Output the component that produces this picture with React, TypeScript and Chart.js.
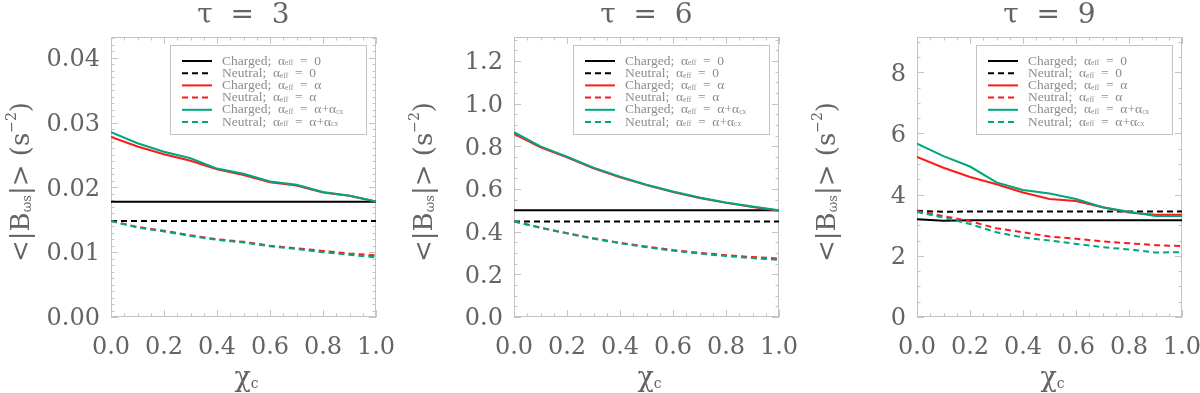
import React, { useEffect, useRef } from "react";
import { Chart, registerables } from "chart.js";
Chart.register(...registerables);

const chiValues = [0, 0.1, 0.2, 0.3, 0.4, 0.5, 0.6, 0.7, 0.8, 0.9, 1.0];
const xTickLabels = ["0.0", "0.2", "0.4", "0.6", "0.8", "1.0"];

// tau = 3
const tau3ChargedZero = [0.0178, 0.0178, 0.0178, 0.0178, 0.0178, 0.0178, 0.0178, 0.0178, 0.0178, 0.0178, 0.0178];
const tau3NeutralZero = [0.0148, 0.0148, 0.0148, 0.0148, 0.0148, 0.0148, 0.0148, 0.0148, 0.0148, 0.0148, 0.0148];
const tau3ChargedAlpha = [0.0278, 0.0263, 0.0251, 0.0241, 0.0228, 0.0219, 0.0208, 0.0203, 0.0192, 0.0187, 0.0178];
const tau3NeutralAlpha = [0.0148, 0.0139, 0.0133, 0.0126, 0.012, 0.0116, 0.011, 0.0106, 0.0102, 0.0098, 0.0095];
const tau3ChargedCx = [0.0285, 0.0268, 0.0255, 0.0245, 0.0229, 0.0221, 0.0209, 0.0204, 0.0193, 0.0187, 0.0178];
const tau3NeutralCx = [0.0148, 0.0138, 0.0132, 0.0125, 0.0119, 0.0115, 0.0109, 0.0105, 0.01, 0.0096, 0.0092];
const tau3YTickLabels = ["0.00", "0.01", "0.02", "0.03", "0.04"];

// tau = 6
const tau6ChargedZero = [0.5, 0.5, 0.5, 0.5, 0.5, 0.5, 0.5, 0.5, 0.5, 0.5, 0.5];
const tau6NeutralZero = [0.448, 0.448, 0.448, 0.448, 0.448, 0.448, 0.448, 0.448, 0.448, 0.448, 0.448];
const tau6ChargedAlpha = [0.858, 0.795, 0.748, 0.697, 0.655, 0.618, 0.586, 0.558, 0.535, 0.516, 0.498];
const tau6NeutralAlpha = [0.448, 0.419, 0.393, 0.369, 0.348, 0.33, 0.314, 0.301, 0.29, 0.281, 0.274];
const tau6ChargedCx = [0.866, 0.8, 0.752, 0.7, 0.658, 0.62, 0.588, 0.56, 0.537, 0.518, 0.5];
const tau6NeutralCx = [0.448, 0.418, 0.392, 0.367, 0.346, 0.327, 0.311, 0.297, 0.286, 0.276, 0.268];
const tau6YTickLabels = ["0.0", "0.2", "0.4", "0.6", "0.8", "1.0", "1.2"];

// tau = 9
const tau9ChargedZero = [3.2, 3.15, 3.16, 3.16, 3.16, 3.16, 3.16, 3.16, 3.16, 3.16, 3.16];
const tau9NeutralZero = [3.47, 3.44, 3.45, 3.45, 3.45, 3.45, 3.45, 3.45, 3.45, 3.45, 3.45];
const tau9ChargedAlpha = [5.23, 4.88, 4.58, 4.34, 4.07, 3.86, 3.79, 3.59, 3.42, 3.34, 3.34];
const tau9NeutralAlpha = [3.47, 3.3, 3.13, 2.9, 2.77, 2.63, 2.56, 2.47, 2.41, 2.35, 2.32];
const tau9ChargedCx = [5.67, 5.26, 4.92, 4.4, 4.15, 4.04, 3.86, 3.59, 3.44, 3.3, 3.3];
const tau9NeutralCx = [3.43, 3.25, 3.04, 2.77, 2.6, 2.5, 2.39, 2.28, 2.21, 2.11, 2.12];
const tau9YTickLabels = ["0", "2", "4", "6", "8"];

const panelTitles = ["τ  =  3", "τ  =  6", "τ  =  9"];

// legend: alternating normal / subscript segments
const legendLabels = [
  ["Charged;  α", "eff", "  =  0"],
  ["Neutral;  α", "eff", "  =  0"],
  ["Charged;  α", "eff", "  =  α"],
  ["Neutral;  α", "eff", "  =  α"],
  ["Charged;  α", "eff", "  =  α+α", "cx"],
  ["Neutral;  α", "eff", "  =  α+α", "cx"],
];

const seriesColors = ["#000000", "#000000", "#ff1a1a", "#ff1a1a", "#00a67e", "#00a67e"];
const seriesDashed = [false, true, false, true, false, true];

type PanelSpec = {
  title: string;
  series: number[][];
  yMax: number;
  yStep: number;
  yMinor: number;
  yTickLabels: string[];
  left: number;
};

const panels: PanelSpec[] = [
  {
    title: panelTitles[0],
    series: [tau3ChargedZero, tau3NeutralZero, tau3ChargedAlpha, tau3NeutralAlpha, tau3ChargedCx, tau3NeutralCx],
    yMax: 0.0432, yStep: 0.01, yMinor: 0.001, yTickLabels: tau3YTickLabels, left: 0,
  },
  {
    title: panelTitles[1],
    series: [tau6ChargedZero, tau6NeutralZero, tau6ChargedAlpha, tau6NeutralAlpha, tau6ChargedCx, tau6NeutralCx],
    yMax: 1.3125, yStep: 0.2, yMinor: 0.05, yTickLabels: tau6YTickLabels, left: 403,
  },
  {
    title: panelTitles[2],
    series: [tau9ChargedZero, tau9NeutralZero, tau9ChargedAlpha, tau9NeutralAlpha, tau9ChargedCx, tau9NeutralCx],
    yMax: 9.155, yStep: 2, yMinor: 0.5, yTickLabels: tau9YTickLabels, left: 806,
  },
];

const CW = 394;
const CH = 393;
const SERIF = "'DejaVu Serif', serif";
const LSERIF = "'Liberation Serif', serif";
const TEXT = "#646464";
const FRAME = "#c4c4c4";

function drawSegments(ctx: CanvasRenderingContext2D, segs: { t: string; font: string; dy: number }[], x: number, y: number, align: "left" | "center") {
  let total = 0;
  for (const s of segs) {
    ctx.font = s.font;
    total += ctx.measureText(s.t).width;
  }
  let cx = align === "center" ? x - total / 2 : x;
  ctx.textAlign = "left";
  for (const s of segs) {
    ctx.font = s.font;
    ctx.fillText(s.t, cx, y + s.dy);
    cx += ctx.measureText(s.t).width;
  }
}

function makeDecor(spec: PanelSpec) {
  return {
    id: "decor",
    beforeDatasetsDraw(chart: any) {
      const ctx: CanvasRenderingContext2D = chart.ctx;
      const { left, right, top, bottom } = chart.chartArea;
      const xs = chart.scales.x;
      const ys = chart.scales.y;
      ctx.save();
      ctx.strokeStyle = FRAME;
      ctx.lineWidth = 1;
      ctx.strokeRect(left + 0.5, top + 0.5, right - left - 1, bottom - top - 1);
      const xMinor = 0.05;
      const xMajor = 0.2;
      for (let k = 0; k * xMinor <= 1 + 1e-9; k++) {
        const v = k * xMinor;
        const major = Math.abs(v / xMajor - Math.round(v / xMajor)) < 1e-6;
        const len = major ? 7 : 3.5;
        const px = Math.round(xs.getPixelForValue(v)) + 0.5;
        ctx.beginPath();
        ctx.moveTo(px, bottom);
        ctx.lineTo(px, bottom - len);
        ctx.moveTo(px, top);
        ctx.lineTo(px, top + len);
        ctx.stroke();
      }
      for (let k = 0; k * spec.yMinor <= spec.yMax + 1e-12; k++) {
        const v = k * spec.yMinor;
        const major = Math.abs(v / spec.yStep - Math.round(v / spec.yStep)) < 1e-6;
        const len = major ? 7 : 3.5;
        const py = Math.round(ys.getPixelForValue(v)) + 0.5;
        ctx.beginPath();
        ctx.moveTo(left, py);
        ctx.lineTo(left + len, py);
        ctx.moveTo(right, py);
        ctx.lineTo(right - len, py);
        ctx.stroke();
      }
      ctx.restore();
    },
    afterDatasetsDraw(chart: any) {
      const ctx: CanvasRenderingContext2D = chart.ctx;
      const { left } = chart.chartArea;
      const bx = left + 59;
      const by = 45;
      const bw = 196;
      const bh = 89;
      ctx.save();
      ctx.fillStyle = "#ffffff";
      ctx.fillRect(bx, by, bw, bh);
      ctx.strokeStyle = FRAME;
      ctx.lineWidth = 1;
      ctx.strokeRect(bx + 0.5, by + 0.5, bw, bh);
      chart.data.datasets.forEach((ds: any, i: number) => {
        const ry = by + 16 + i * 12.2;
        ctx.strokeStyle = ds.borderColor;
        ctx.lineWidth = 2;
        ctx.setLineDash(ds.borderDash || []);
        ctx.beginPath();
        ctx.moveTo(bx + 12, ry);
        ctx.lineTo(bx + 42, ry);
        ctx.stroke();
        ctx.setLineDash([]);
        const parts = legendLabels[i];
        const segs = parts.map((t, j) => ({
          t,
          font: j % 2 === 0 ? `13.5px ${LSERIF}` : `7.5px ${LSERIF}`,
          dy: j % 2 === 0 ? 0 : 2.5,
        }));
        ctx.fillStyle = "#8c8c8c";
        ctx.textBaseline = "middle";
        drawSegments(ctx, segs, bx + 52, ry, "left");
      });
      ctx.restore();
    },
    afterDraw(chart: any) {
      const ctx: CanvasRenderingContext2D = chart.ctx;
      const { left, right, top, bottom } = chart.chartArea;
      const cx = (left + right) / 2;
      ctx.save();
      ctx.fillStyle = TEXT;
      ctx.textBaseline = "alphabetic";
      ctx.font = `28px ${SERIF}`;
      ctx.textAlign = "center";
      ctx.fillText(spec.title, cx, 23);
      drawSegments(ctx, [
        { t: "χ", font: `27px ${SERIF}`, dy: 0 },
        { t: "c", font: `14px ${SERIF}`, dy: 2 },
      ], cx + 3, 386, "center");
      ctx.translate(22, 182);
      ctx.rotate(-Math.PI / 2);
      ctx.textBaseline = "middle";
      drawSegments(ctx, [
        { t: "<|B", font: `26px ${SERIF}`, dy: 0 },
        { t: "ωs", font: `13px ${SERIF}`, dy: 6 },
        { t: "|> (s", font: `26px ${SERIF}`, dy: 0 },
        { t: "−2", font: `14px ${SERIF}`, dy: -10 },
        { t: ")", font: `26px ${SERIF}`, dy: 0 },
      ], 0, 0, "center");
      ctx.restore();
    },
  };
}

function Panel({ spec }: { spec: PanelSpec }) {
  const ref = useRef<HTMLCanvasElement | null>(null);
  useEffect(() => {
    const canvas = ref.current;
    if (!canvas) return;
    const chart = new Chart(canvas, {
      type: "line",
      data: {
        datasets: spec.series.map((vals, i) => ({
          label: legendLabels[i].join(""),
          data: chiValues.map((x, k) => ({ x, y: vals[k] })),
          borderColor: seriesColors[i],
          backgroundColor: seriesColors[i],
          borderWidth: 2,
          borderDash: seriesDashed[i] ? [6, 4] : [],
          pointRadius: 0,
          fill: false,
          tension: 0,
          order: 5 - i,
        })),
      },
      options: {
        responsive: false,
        animation: false,
        devicePixelRatio: 1,
        layout: { padding: { top: 37, right: 18, left: 0, bottom: 0 } },
        plugins: {
          legend: { display: false },
          tooltip: { enabled: false },
          title: { display: false },
        },
        scales: {
          x: {
            type: "linear",
            min: 0,
            max: 1,
            bounds: "data",
            grid: { display: false, drawTicks: false, tickLength: 0 },
            border: { display: false },
            ticks: {
              stepSize: 0.2,
              includeBounds: false,
              autoSkip: false,
              maxRotation: 0,
              minRotation: 0,
              padding: 16,
              color: TEXT,
              font: { family: "DejaVu Serif", size: 24 },
              callback: (_v: any, i: number) => xTickLabels[i],
            },
            afterFit: (s: any) => {
              s.height = 76;
              s.paddingLeft = 0;
              s.paddingRight = 0;
            },
          },
          y: {
            type: "linear",
            min: 0,
            max: spec.yMax,
            bounds: "data",
            grid: { display: false, drawTicks: false, tickLength: 0 },
            border: { display: false },
            ticks: {
              stepSize: spec.yStep,
              includeBounds: false,
              autoSkip: false,
              padding: 11,
              labelOffset: 2,
              color: TEXT,
              font: { family: "DejaVu Serif", size: 24 },
              callback: (_v: any, i: number) => spec.yTickLabels[i],
            },
            afterFit: (s: any) => {
              s.width = 111;
              s.paddingTop = 0;
              s.paddingBottom = 0;
            },
          },
        },
      } as any,
      plugins: [makeDecor(spec) as any],
    });
    return () => chart.destroy();
  }, [spec]);
  return (
    <canvas
      ref={ref}
      width={CW}
      height={CH}
      style={{ position: "absolute", left: spec.left, top: 0, width: CW, height: CH }}
    />
  );
}

export default function App() {
  return (
    <div style={{ position: "absolute", left: 0, top: 0, width: 1200, height: 393, background: "#ffffff", overflow: "hidden" }}>
      {panels.map((p, i) => (
        <Panel key={i} spec={p} />
      ))}
    </div>
  );
}
